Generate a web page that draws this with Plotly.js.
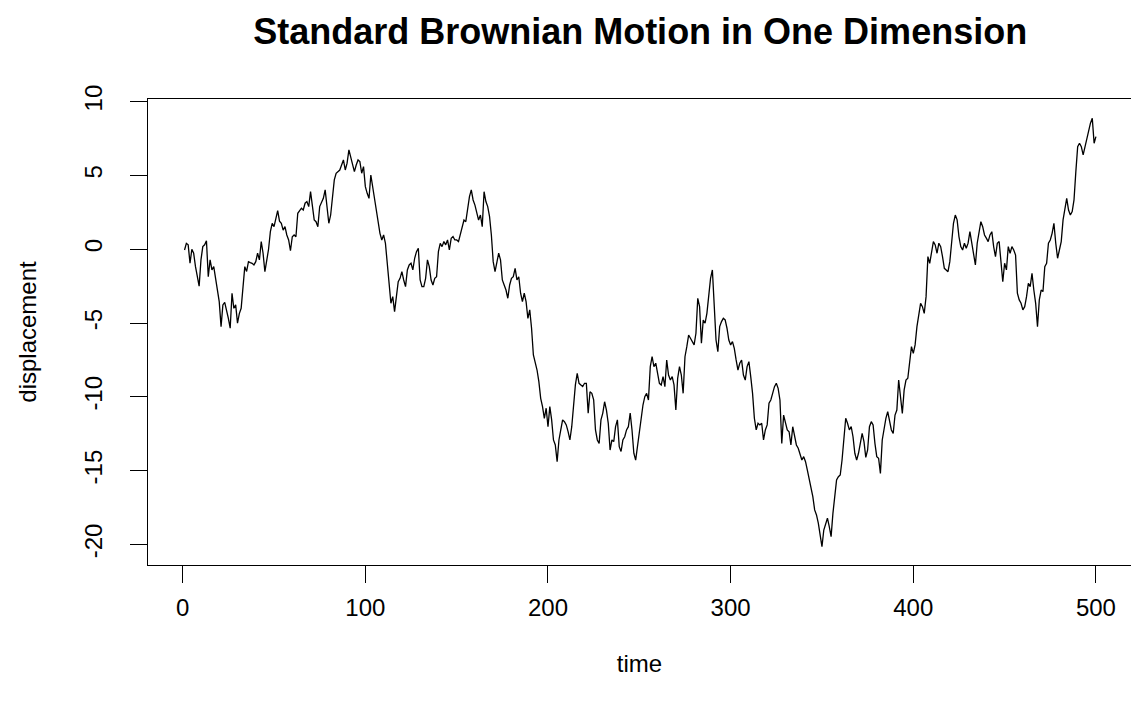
<!DOCTYPE html>
<html>
<head>
<meta charset="utf-8">
<script src="https://cdn.plot.ly/plotly-3.0.1.min.js"></script>
<style>html,body{margin:0;padding:0;background:#fff;}#chart{width:1131px;height:709px;}</style>
</head>
<body>
<div id="chart"></div>
<script>
const chartTitle = "Standard Brownian Motion in One Dimension";
const xLabel = "time";
const yLabel = "displacement";
const xTicks = [0, 100, 200, 300, 400, 500];
const yTicks = [-20, -15, -10, -5, 0, 5, 10];

// displacement at time 1..500
const displacement = [
  -0.05, 0.4, 0.3, -0.95, 0, -0.27, -1.18, -1.97, -2.5, -0.72,
  0.18, 0.3, 0.58, -1.86, -0.72, -1.4, -1.18, -1.97, -2.64, -3.55,
  -5.24, -3.77, -3.6, -4.1, -4.68, -5.35, -2.98, -4.0, -3.77, -5.0,
  -4.36, -4.0, -2.42, -1.18, -1.5, -0.84, -0.9, -0.95, -1.06, -0.84,
  -0.27, -0.72, 0.52, -0.27, -1.52, -0.72, 0, 1.19, 1.76, 1.53,
  1.98, 2.62, 1.9, 1.76, 1.3, 1.53, 0.97, 0.63, -0.1, 0.85,
  0.97, 0.85, 2.44, 2.6, 2.78, 2.66, 3.12, 3.23, 2.89, 3.9,
  2.89, 1.99, 1.87, 1.53, 2.89, 3.12, 3.45, 4.02, 2.89, 1.76,
  2.32, 3.34, 4.7, 5.15, 5.26, 5.37, 5.71, 6.05, 5.37, 5.83,
  6.73, 6.28, 5.71, 5.26, 5.71, 6.05, 5.94, 5.15, 5.6, 4.24,
  3.79, 3.45, 5.03, 4.24, 3.57, 2.78, 1.87, 1.08, 0.63, 0.97,
  0.4, -0.84, -2.53, -3.66, -3.21, -4.23, -3.21, -2.2, -1.97, -1.52,
  -2.08, -2.53, -1.4, -1.06, -0.95, -1.4, -0.61, -0.16, 0.07, -2.08,
  -2.53, -2.53, -1.97, -0.72, -1.18, -2.08, -2.42, -1.97, -1.86, -0.16,
  0.4, 0.18, 0.52, 0.3, 0.63, -0.05, 0.74, 0.86, 0.63, 0.63,
  0.52, 1.08, 1.65, 1.98, 1.87, 2.89, 3.57, 4.02, 3.34, 2.99,
  2.44, 1.98, 2.32, 1.53, 3.9, 3.23, 2.89, 2.21, 0.97, -0.84,
  -1.52, -0.95, -0.27, -0.72, -2.08, -2.42, -2.76, -3.32, -2.42, -1.97,
  -1.86, -1.29, -2.08, -1.86, -2.98, -3.55, -2.98, -3.55, -4.68, -4.11,
  -5.35, -7.16, -7.61, -8.18, -8.97, -10.1, -10.66, -11.45, -10.77, -12.02,
  -10.66, -11.56, -12.92, -13.26, -14.39, -12.92, -12.24, -11.56, -11.68, -11.9,
  -12.35, -12.92, -12.02, -10.66, -9.19, -8.4, -9.08, -9.19, -9.3, -9.08,
  -9.08, -11.1, -9.65, -9.76, -10.2, -12.24, -12.92, -13.15, -11.56, -11.1,
  -10.33, -10.9, -11.8, -13.6, -12.92, -13.03, -12.02, -11.56, -13.37, -13.7,
  -12.92, -12.7, -12.24, -12.02, -11.1, -12.24, -13.82, -14.28, -13.37, -12.46,
  -11.34, -10.55, -9.99, -9.76, -10.21, -7.95, -7.28, -7.95, -7.72, -8.4,
  -9.08, -9.19, -8.63, -9.31, -7.5, -8.52, -8.86, -8.63, -9.19, -10.89,
  -8.74, -7.95, -8.52, -9.76, -7.28, -6.6, -5.81, -6.03, -6.26, -6.48,
  -5.69, -3.32, -3.89, -6.37, -4.79, -5.01, -4.34, -3.21, -1.97, -1.4,
  -3.43, -6.15, -6.94, -5.24, -4.9, -4.68, -4.79, -5.35, -6.15, -6.48,
  -6.26, -6.71, -7.5, -8.18, -7.72, -7.5, -8.52, -8.86, -7.95, -7.61,
  -8.63, -9.76, -11.45, -12.24, -11.79, -11.9, -11.79, -12.92, -12.24, -11.9,
  -10.43, -10.21, -9.76, -9.31, -9.08, -9.42, -10.21, -13.15, -11.23, -11.79,
  -12.24, -12.36, -13.26, -12.02, -12.58, -13.26, -13.48, -13.82, -14.28, -14.05,
  -14.39, -14.96, -15.52, -16.08, -16.76, -17.66, -18.0, -18.56, -19.36, -20.15,
  -19.02, -18.56, -18.22, -18.79, -19.47, -17.89, -16.65, -15.63, -15.41, -15.29,
  -14.28, -12.8, -11.45, -11.79, -12.24, -12.02, -12.7, -13.82, -14.28, -13.82,
  -13.15, -12.47, -13.03, -14.1, -13.6, -12.02, -11.68, -11.9, -13.15, -14.05,
  -14.16, -15.18, -12.92, -12.02, -11.45, -11.0, -11.56, -12.24, -12.47, -11.23,
  -10.89, -8.86, -9.99, -11.12, -9.53, -8.86, -8.74, -7.72, -6.6, -7.05,
  -6.48, -5.24, -4.34, -3.66, -3.89, -4.34, -3.21, -0.5, -0.95, -0.05,
  0.52, 0.29, -0.27, 0.41, 0.18, -0.5, -1.29, -1.4, -1.52, -0.84,
  0.41, 1.76, 2.32, 1.99, 0.86, 0.18, -0.05, 0.41, 0.07, 0.41,
  1.19, 0.41, -0.5, -1.06, 0.41, 1.08, 1.87, 1.53, 0.97, 0.75,
  0.52, 0.97, 1.19, 0.18, -0.5, 0.41, 0.52, -0.84, -2.2, -0.95,
  -1.4, 0.18, -0.27, 0.18, -0.05, -0.39, -2.98, -3.43, -3.66, -4.11,
  -3.89, -3.21, -2.3, -2.53, -1.63, -2.76, -3.66, -5.24, -3.43, -2.76,
  -2.87, -1.18, -0.95, 0.41, 0.63, 1.08, 1.76, 0.41, -0.61, -0.05,
  0.52, 1.99, 2.89, 3.45, 2.66, 2.32, 2.55, 3.34, 5.26, 6.95,
  7.18, 6.95, 6.39, 6.95, 7.4, 8.08, 8.54, 8.87, 7.18, 7.63
];
const time = displacement.map((_, i) => i + 1);

const FONT = "Liberation Sans, Arial, Helvetica, sans-serif";

const trace = {
  x: time,
  y: displacement,
  type: "scatter",
  mode: "lines",
  line: { color: "#000000", width: 1.3 },
  hoverinfo: "x+y",
  showlegend: false
};

const layout = {
  width: 1131,
  height: 709,
  margin: { l: 148, r: 0, t: 99, b: 144, pad: 0 },
  paper_bgcolor: "#ffffff",
  plot_bgcolor: "#ffffff",
  font: { family: FONT, color: "#000000", size: 24 },
  title: {
    text: chartTitle,
    font: { family: FONT, size: 36, weight: 700, color: "#000000" },
    xref: "container", x: 0.566, xanchor: "center",
    yref: "container", y: 1 - 31 / 709, yanchor: "middle"
  },
  xaxis: {
    range: [-19.0, 519.2],
    tickmode: "array",
    tickvals: xTicks,
    ticktext: xTicks.map(String),
    ticks: "outside", ticklen: 17, tickwidth: 1, tickcolor: "#000000",
    ticklabelstandoff: 4,
    showline: true, linecolor: "#000000", linewidth: 1, mirror: true,
    showgrid: false, zeroline: false,
    tickfont: { family: FONT, size: 24, color: "#000000" },
    title: { text: xLabel, font: { family: FONT, size: 24, color: "#000000" }, standoff: 35 }
  },
  yaxis: {
    range: [-21.39, 10.18],
    tickmode: "array",
    tickvals: yTicks,
    ticktext: yTicks.map(String),
    tickangle: -90,
    ticks: "outside", ticklen: 17, tickwidth: 1, tickcolor: "#000000",
    ticklabelstandoff: 18,
    showline: true, linecolor: "#000000", linewidth: 1, mirror: false,
    showgrid: false, zeroline: false,
    tickfont: { family: FONT, size: 24, color: "#000000" },
    title: { text: yLabel, font: { family: FONT, size: 24, color: "#000000" }, standoff: 37 }
  }
};

Plotly.newPlot("chart", [trace], layout, { displayModeBar: false, staticPlot: false });
</script>
</body>
</html>
